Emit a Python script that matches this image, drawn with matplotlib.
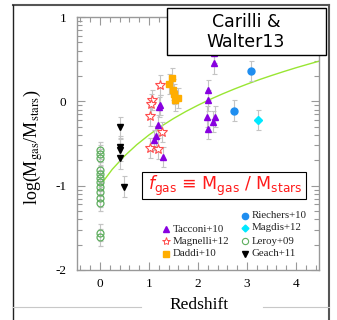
import matplotlib
matplotlib.use("Agg")
import matplotlib.pyplot as plt
import numpy as np
from matplotlib.patches import Rectangle

plt.rcParams['axes.unicode_minus'] = False

# ---------------- data ----------------
leroy_z = [0, 0, 0, 0, 0, 0, 0, 0, 0, 0, 0, 0, 0]
leroy_y = [-0.58, -0.62, -0.67, -0.82, -0.86, -0.91, -0.96, -1.02, -1.07, -1.15, -1.20, -1.56, -1.61]
leroy_err = [0.10] * 13

geach_z = [0.41, 0.40, 0.41, 0.41, 0.49]
geach_y = [-0.31, -0.54, -0.58, -0.67, -1.01]
geach_err = [0.13] * 5

magnelli_z = [1.22, 1.06, 1.04, 1.02, 1.26, 1.02, 1.18]
magnelli_y = [0.19, 0.02, -0.03, -0.17, -0.36, -0.55, -0.56]
magnelli_err = [0.12] * 7

tacconi_z = [1.20, 1.22, 1.18, 1.14, 1.10, 1.29, 2.20, 2.20, 2.18, 2.35, 2.31, 2.20, 2.32, 2.32]
tacconi_y = [-0.07, -0.04, -0.28, -0.41, -0.46, -0.66, 0.13, 0.01, -0.18, -0.18, -0.24, -0.33, 0.45, 0.57]
tacconi_err = [0.12] * 14

daddi_z = [1.47, 1.41, 1.49, 1.51, 1.53, 1.59]
daddi_y = [0.28, 0.21, 0.14, 0.09, 0.01, 0.04]
daddi_err = [0.12] * 6

riechers_z = [3.08, 2.73]
riechers_y = [0.36, -0.11]
riechers_err = [0.12, 0.12]

magdis_z = [3.22]
magdis_y = [-0.22]
magdis_err = [0.12]

curve_z = [0, 0.25, 0.5, 0.75, 1.0, 1.25, 1.5, 1.75, 2.0, 2.25, 2.5, 2.75,
           3.0, 3.25, 3.5, 3.75, 4.0, 4.25, 4.5]
curve_y = [-1.00, -0.806, -0.648, -0.514, -0.398, -0.296, -0.204, -0.121, -0.046,
           0.024, 0.088, 0.148, 0.204, 0.257, 0.306, 0.353, 0.398, 0.440, 0.481]

x_ticks = [0, 1, 2, 3, 4]
y_ticks = [-2, -1, 0, 1]

legend_left = ["Tacconi+10", "Magnelli+12", "Daddi+10"]
legend_right = ["Riechers+10", "Magdis+12", "Leroy+09", "Geach+11"]

# ---------------- figure ----------------
W, H = 337, 320
fig = plt.figure(figsize=(W / 100, H / 100), dpi=100)
fig.patch.set_facecolor('white')

ax_l, ax_r, ax_t, ax_b = 77, 319, 17, 270
ax = fig.add_axes([ax_l / W, 1 - ax_b / H, (ax_r - ax_l) / W, (ax_b - ax_t) / H])
ax.set_xlim(-0.47, 4.47)
ax.set_ylim(-2, 1)

serif = 'Liberation Serif'
errc = '#c4c4c4'
ekw = dict(ecolor=errc, elinewidth=0.8, capsize=1.8, capthick=0.8, linestyle='none')

ax.plot(curve_z, curve_y, color='#99e633', lw=1.0, zorder=2)

ax.errorbar(leroy_z, leroy_y, yerr=leroy_err, marker='o', ms=5, mfc='none',
            mec='#5fae5f', mew=0.9, zorder=3, **ekw)
ax.errorbar(geach_z, geach_y, yerr=geach_err, marker='v', ms=4.5, mfc='black',
            mec='black', zorder=3, **ekw)
ax.errorbar(magnelli_z, magnelli_y, yerr=magnelli_err, marker='*', ms=7, mfc='white',
            mec='#ff4d4d', mew=0.8, zorder=3, **ekw)
ax.errorbar(tacconi_z, tacconi_y, yerr=tacconi_err, marker='^', ms=4.5, mfc='#8800e0',
            mec='#8800e0', zorder=3, **ekw)
ax.errorbar(daddi_z, daddi_y, yerr=daddi_err, marker='s', ms=4.5, mfc='#ffad00',
            mec='#ffad00', zorder=3, **ekw)
ax.errorbar(riechers_z, riechers_y, yerr=riechers_err, marker='o', ms=5, mfc='#1f8ef0',
            mec='#1f8ef0', zorder=3, **ekw)
ax.errorbar(magdis_z, magdis_y, yerr=magdis_err, marker='D', ms=3.8, mfc='#00e8ff',
            mec='#00e8ff', zorder=3, **ekw)

# ticks
ax.set_xticks(x_ticks)
ax.set_xticks(np.round(np.arange(-0.4, 4.41, 0.2), 2), minor=True)
ax.set_yticks(y_ticks)
ymin = [n + np.log10(k) for n in (-2, -1, 0) for k in range(2, 10)]
ax.set_yticks(ymin, minor=True)
ax.set_xticklabels([str(v) for v in x_ticks], family=serif, fontsize=9.5)
ax.set_yticklabels([str(v) for v in y_ticks], family=serif, fontsize=9.5)
ax.tick_params(which='both', direction='in', top=True, right=True, color='#999999', width=0.8)
ax.tick_params(which='major', length=6)
ax.tick_params(which='minor', length=3.5)
ax.tick_params(axis='y', pad=7.5)
ax.tick_params(axis='x', pad=6)
for s in ax.spines.values():
    s.set_color('#999999')
    s.set_linewidth(1.0)

# legend (manual)
def lx(px):
    return (px - ax_l) / (ax_r - ax_l)

def ly(py):
    return (ax_b - py) / (ax_b - ax_t)

left_rows = [229, 241, 254]
left_styles = [dict(marker='^', mfc='#8800e0', mec='#8800e0', ms=4),
               dict(marker='*', mfc='white', mec='#ff4d4d', ms=6, mew=0.7),
               dict(marker='s', mfc='#ffad00', mec='#ffad00', ms=4)]
for lab, py, st in zip(legend_left, left_rows, left_styles):
    ax.plot([lx(166)], [ly(py)], transform=ax.transAxes, ls='none', zorder=5, **st)
    ax.text(lx(173), ly(py), lab, transform=ax.transAxes, family=serif, fontsize=7.8,
            va='center', ha='left', color='#222222')

right_rows = [216, 228, 241, 254]
right_styles = [dict(marker='o', mfc='#1f8ef0', mec='#1f8ef0', ms=4.5),
                dict(marker='D', mfc='#00e8ff', mec='#00e8ff', ms=3.5),
                dict(marker='o', mfc='none', mec='#5fae5f', ms=4.5, mew=0.8),
                dict(marker='v', mfc='black', mec='black', ms=4)]
for lab, py, st in zip(legend_right, right_rows, right_styles):
    ax.plot([lx(245)], [ly(py)], transform=ax.transAxes, ls='none', zorder=5, **st)
    ax.text(lx(252), ly(py), lab, transform=ax.transAxes, family=serif, fontsize=7.8,
            va='center', ha='left', color='#222222')

# ---------------- overlay (pixel coords) ----------------
ov = fig.add_axes([0, 0, 1, 1], zorder=10)
ov.set_xlim(0, W)
ov.set_ylim(H, 0)
ov.axis('off')
ov.patch.set_visible(False)

# outer slide frame
ov.plot([13, 329], [5, 5], color='#555555', lw=1.5)
ov.plot([13, 13], [5, 320], color='#222222', lw=1.0)
ov.plot([329, 329], [5, 320], color='#555555', lw=1.5)
ov.plot([13, 141], [307, 307], color='#c8c8c8', lw=0.8)
ov.plot([263, 329], [307, 307], color='#c8c8c8', lw=0.8)

# title box
ov.add_patch(Rectangle((167, 8), 159, 47, fc='white', ec='black', lw=1.0))
ov.text(246, 22, "Carilli &", ha='center', va='center', fontsize=12.5, family='DejaVu Sans')
ov.text(246, 42, "Walter13", ha='center', va='center', fontsize=12.5, family='DejaVu Sans')

# definition box
ov.add_patch(Rectangle((142, 172), 164, 27, fc='white', ec='black', lw=0.8))
ov.text(225, 185.5, r"$f_{\mathrm{gas}}$ ≡ M$_{\mathrm{gas}}$ / M$_{\mathrm{stars}}$",
        ha='center', va='center', fontsize=12.5, color='#ff1a1a', family='DejaVu Sans',
        math_fontfamily='dejavusans')

# axis labels
ov.text(33, 147, r"log(M$_{\mathrm{gas}}$/M$_{\mathrm{stars}}$)", rotation=90,
        ha='center', va='center', fontsize=13, family=serif, math_fontfamily='stix')
ov.text(199, 305, "Redshift", ha='center', va='center', fontsize=12.5, family=serif)

fig.savefig("out.png", dpi=100)
